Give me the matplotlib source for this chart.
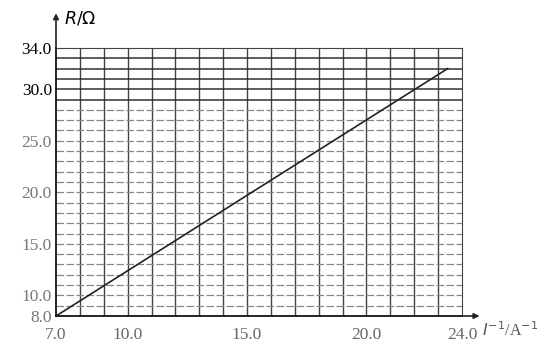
import numpy as np
import matplotlib.pyplot as plt

plt.rc('font', family='Liberation Serif')

# data
x_line = [7.0, 23.4]     # 1/I (A^-1)
r_line = [8.0, 32.0]     # R (ohm)
x_ticks = [7.0, 10.0, 15.0, 20.0, 24.0]
y_ticks = [8.0, 10.0, 15.0, 20.0, 25.0, 30.0, 34.0]

fig = plt.figure(figsize=(5.56, 3.47), dpi=100)
ax = fig.add_axes([0.1007, 0.0893, 0.7302, 0.7724])

ax.set_xlim(7, 24)
ax.set_ylim(8, 34)

# grid, one line per unit
for xv in np.arange(8, 24):
    ax.axvline(xv, color='#444444', lw=1.0, zorder=1)
for yv in np.arange(9, 34):
    if yv >= 29:
        ax.axhline(yv, color='#333333', lw=1.1, zorder=1)
    else:
        ax.axhline(yv, color='#888888', lw=0.9, ls=(0, (6, 2)), zorder=1)

ax.plot(x_line, r_line, color='#222222', lw=1.2, zorder=3)

for s in ['top', 'right']:
    ax.spines[s].set_color('#444444')
ax.spines['left'].set_linewidth(1.2)
ax.spines['bottom'].set_linewidth(1.2)

ax.set_xticks(x_ticks)
ax.set_xticklabels(['%.1f' % v for v in x_ticks], color='#666666')
ax.set_yticks(y_ticks)
ax.set_yticklabels(['%.1f' % v for v in y_ticks])
ax.tick_params(length=0, labelsize=12.5)
ax.tick_params(axis='x', pad=8)
ax.tick_params(axis='y', pad=3)
for lab in ax.get_yticklabels():
    if float(lab.get_text()) < 30:
        lab.set_color('#777777')

# axis arrows
ax.annotate('', xy=(0, 1.14), xytext=(0, 0.99), xycoords='axes fraction',
            arrowprops=dict(arrowstyle='-|>', color='#222222', lw=1.2,
                            mutation_scale=8), annotation_clip=False)
ax.annotate('', xy=(1.05, 0), xytext=(0.99, 0), xycoords='axes fraction',
            arrowprops=dict(arrowstyle='-|>', color='#222222', lw=1.2,
                            mutation_scale=8), annotation_clip=False)
ax.text(0.02, 1.11, r'$R/\Omega$', transform=ax.transAxes, fontsize=12.5,
        ha='left', va='center')
ax.text(1.05, -0.055, r'$I^{-1}$/A$^{-1}$', transform=ax.transAxes,
        fontsize=11.5, ha='left', va='center', color='#555555')

fig.savefig('out.png', dpi=100)
